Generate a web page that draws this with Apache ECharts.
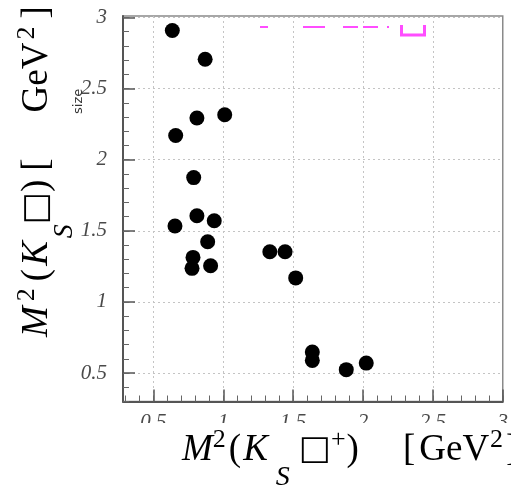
<!DOCTYPE html>
<html>
<head>
<meta charset="utf-8">
<script src="https://cdn.jsdelivr.net/npm/echarts@6/dist/echarts.min.js"></script>
<style>
  html, body { margin: 0; padding: 0; background: #ffffff; }
  #chart { width: 511px; height: 489px; }
</style>
</head>
<body>
<div id="chart"></div>
<script>
// Dalitz-plot events: M^2(K_S pi+) vs M^2(K_S pi-), GeV^2
const m2KsPiPlus  = [0.635, 0.870, 0.811, 1.010, 0.659, 0.788, 0.811, 0.935, 0.654, 0.888,
                     0.783, 0.776, 0.909, 1.333, 1.442, 1.518, 1.637, 1.637, 1.880, 2.023];
const m2KsPiMinus = [2.908, 2.706, 2.293, 2.316, 2.170, 1.874, 1.606, 1.571, 1.534, 1.423,
                     1.313, 1.236, 1.254, 1.353, 1.353, 1.169, 0.648, 0.589, 0.524, 0.570];

// Axis tick values
const majorTicksX = [0.5, 1, 1.5, 2, 2.5, 3];
const majorTicksY = [0.5, 1, 1.5, 2, 2.5, 3];
const minorTicks = [];
for (let i = 3; i <= 30; i++) minorTicks.push(i / 10);

const xRange = [0.282, 3.0];
const yRange = [0.3, 3.01];

const serif = "'Liberation Serif','Times New Roman',serif";
const labelFont = {
  fontFamily: serif, fontStyle: 'italic', fontSize: 21, color: '#4a4a4a'
};

// Axis titles as sequences of [kind, text, left gap in px]
const xTitleParts = [
  ['mi', 'M', 0], ['sup', '2', 0], ['rm', '(', 3], ['mi', 'K', 2], ['sub', 'S', 8],
  ['box', '\u25A1', 9], ['sup', '+', 0], ['rm', ')', 1], ['rm', '[', 44], ['rm', 'GeV', 4],
  ['sup', '2', 1], ['rm', ']', 3]
];
const yTitleParts = [
  ['mi', 'M', 0], ['sup', '2', 5], ['rm', '(', 7], ['mi', 'K', 3], ['sub', 'S', 3],
  ['box', '\u25A1', 0], ['rm', ')', 0], ['rm', '[', 9], ['rm', 'GeV', 46],
  ['sup', '2', 3], ['rm', ']', 8]
];

const baseStyles = {
  mi:  { fontFamily: serif, fontStyle: 'italic', fontSize: 37, shift: 0 },
  rm:  { fontFamily: serif, fontSize: 37, shift: 0 },
  sup: { fontFamily: serif, fontSize: 26, shift: -10 },
  sub: { fontFamily: serif, fontStyle: 'italic', fontSize: 28, shift: 28 },
  box: { fontFamily: "'DejaVu Sans','DejaVu Serif'", fontStyle: 'italic', fontSize: 34, shift: 0 }
};

function buildTitle(parts) {
  const rich = {};
  let text = '';
  parts.forEach(([kind, str, gap], i) => {
    const b = baseStyles[kind];
    const name = 't' + i;
    const s = b.shift;
    rich[name] = {
      fontFamily: b.fontFamily,
      fontStyle: b.fontStyle || 'normal',
      fontSize: b.fontSize,
      fill: '#000',
      lineHeight: 44,
      verticalAlign: 'middle',
      padding: [s > 0 ? 2 * s : 0, 0, s < 0 ? -2 * s : 0, gap]
    };
    text += '{' + name + '|' + str + '}';
  });
  return { text, rich };
}

const xTitle = buildTitle(xTitleParts);
const yTitle = buildTitle(yTitleParts);

const magenta = '#ff4dff';

function majorAxis(range, ticks, labelMargin) {
  return {
    type: 'value',
    min: range[0],
    max: range[1],
    axisLine: { show: true, onZero: false, lineStyle: { color: '#555', width: 2 } },
    axisTick: { show: true, inside: true, length: 12, customValues: ticks, lineStyle: { color: '#555', width: 1.5 } },
    axisLabel: { show: true, customValues: ticks, formatter: v => String(v), margin: labelMargin, ...labelFont },
    splitLine: { show: true, lineStyle: { color: '#c4c4c4', width: 1, type: [2, 3] } }
  };
}

function minorAxis(range) {
  return {
    type: 'value',
    min: range[0],
    max: range[1],
    axisLine: { show: false },
    axisTick: { show: true, inside: true, length: 6, customValues: minorTicks, lineStyle: { color: '#666', width: 1 } },
    axisLabel: { show: false },
    splitLine: { show: false }
  };
}

const chart = echarts.init(document.getElementById('chart'), null, { renderer: 'canvas' });

chart.setOption({
  backgroundColor: '#ffffff',
  animation: false,
  grid: {
    left: 123, right: 1, top: 16, bottom: 87.5,
    show: true, borderColor: '#8a8a8a', borderWidth: 1.5, backgroundColor: 'transparent'
  },
  xAxis: [
    Object.assign(majorAxis(xRange, majorTicksX, 10), { position: 'bottom' }),
    Object.assign(minorAxis(xRange), { position: 'bottom' })
  ],
  yAxis: [
    Object.assign(majorAxis(yRange, majorTicksY, 16), { position: 'left' }),
    Object.assign(minorAxis(yRange), { position: 'left' })
  ],
  series: [{
    type: 'scatter',
    xAxisIndex: 0,
    yAxisIndex: 0,
    symbol: 'circle',
    symbolSize: 15,
    itemStyle: { color: '#000000', opacity: 1 },
    data: m2KsPiPlus.map((x, i) => [x, m2KsPiMinus[i]])
  }],
  graphic: [
    // white band under the x-axis title
    { type: 'rect', z: 90, shape: { x: 100, y: 423, width: 411, height: 66 }, style: { fill: '#ffffff' } },
    { type: 'text', z: 100, x: 182, y: 450,
      style: { text: xTitle.text, rich: xTitle.rich, align: 'left', verticalAlign: 'middle' } },
    { type: 'text', z: 100, x: 37, y: 337, rotation: Math.PI / 2,
      style: { text: yTitle.text, rich: yTitle.rich, align: 'left', verticalAlign: 'middle' } },
    // small rotated caption next to the y axis
    { type: 'text', z: 100, x: 79, y: 114, rotation: Math.PI / 2,
      style: { text: 'size', fontFamily: 'DejaVu Sans', fontSize: 13, fill: '#333', align: 'left', verticalAlign: 'middle' } },
    // magenta legend remnants along the top edge
    { type: 'line', z: 100, shape: { x1: 260, y1: 27, x2: 268, y2: 27 }, style: { stroke: magenta, lineWidth: 2 } },
    { type: 'line', z: 100, shape: { x1: 303, y1: 27, x2: 325, y2: 27 }, style: { stroke: magenta, lineWidth: 2 } },
    { type: 'line', z: 100, shape: { x1: 343, y1: 27, x2: 358, y2: 27 }, style: { stroke: magenta, lineWidth: 2 } },
    { type: 'line', z: 100, shape: { x1: 363, y1: 27, x2: 378, y2: 27 }, style: { stroke: magenta, lineWidth: 2 } },
    { type: 'line', z: 100, shape: { x1: 387, y1: 27, x2: 389, y2: 27 }, style: { stroke: magenta, lineWidth: 2 } },
    { type: 'polyline', z: 100, shape: { points: [[401.5, 25], [401.5, 35], [424.5, 35], [424.5, 25]] },
      style: { stroke: magenta, lineWidth: 3, fill: null } }
  ]
});
</script>
</body>
</html>
